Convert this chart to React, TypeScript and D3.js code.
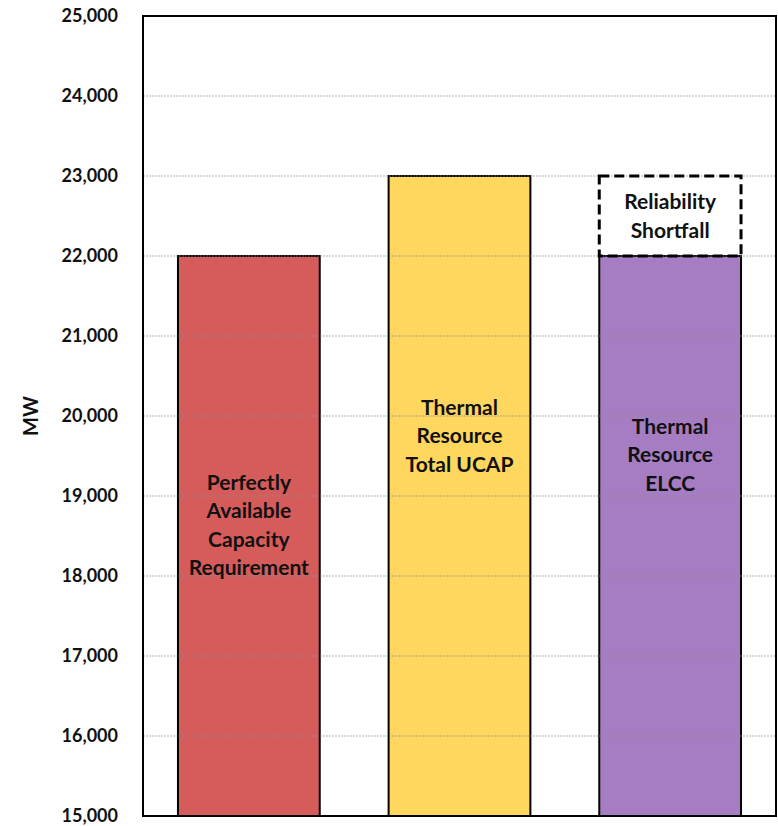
import React from "react";
import * as d3 from "d3";

const categories = ["Requirement", "UCAP", "ELCC"];
const barValues = [22000, 23000, 22000];
const barColors = ["#d65c5c", "#ffd65e", "#a67dc3"];
const barLabels = [
  ["Perfectly", "Available", "Capacity", "Requirement"],
  ["Thermal", "Resource", "Total UCAP"],
  ["Thermal", "Resource", "ELCC"],
];
const labelCenters = [525, 436, 455];
const shortfallTop = 23000;
const shortfallLabel = ["Reliability", "Shortfall"];
const yTicks = [15000, 16000, 17000, 18000, 19000, 20000, 21000, 22000, 23000, 24000, 25000];

const W = 778;
const H = 826;
const left = 143;
const right = 776;
const top = 16;
const bottom = 816;
const font = "Lato, 'Open Sans', sans-serif";

export default function App() {
  const y = d3.scaleLinear().domain([15000, 25000]).range([bottom, top]);
  const x = d3
    .scaleBand()
    .domain(categories)
    .range([left, right])
    .paddingInner(0.327)
    .paddingOuter(0.166);
  const fmt = d3.format(",");
  const lh = 28.5;
  return (
    <svg width={W} height={H} style={{ position: "absolute", left: 0, top: 0 }}>
      <rect x={0} y={0} width={W} height={H} fill="#fff" />
      {categories.map((c, i) => (
        <rect
          key={c}
          x={x(c)!}
          y={y(barValues[i])}
          width={x.bandwidth()}
          height={bottom - y(barValues[i])}
          fill={barColors[i]}
          stroke="#000"
          strokeWidth={2}
        />
      ))}
      {yTicks.slice(1, -1).map((t) => (
        <line
          key={t}
          x1={left}
          x2={right}
          y1={y(t)}
          y2={y(t)}
          stroke="#8c8c8c"
          strokeOpacity={0.45}
          strokeWidth={1.3}
          strokeDasharray="2,1"
        />
      ))}
      <rect
        x={x("ELCC")!}
        y={y(shortfallTop)}
        width={x.bandwidth()}
        height={y(barValues[2]) - y(shortfallTop)}
        fill="none"
        stroke="#000"
        strokeWidth={3}
        strokeDasharray="10,5"
      />
      <rect x={left} y={top} width={right - left} height={bottom - top} fill="none" stroke="#000" strokeWidth={2} />
      {yTicks.map((t) => (
        <text
          key={t}
          x={118}
          y={y(t)}
          dy="0.35em"
          textAnchor="end"
          fontFamily={font}
          fontWeight="bold"
          fontSize={18}
          fill="#111"
        >
          {fmt(t)}
        </text>
      ))}
      <text
        transform={`translate(31,416) rotate(-90)`}
        textAnchor="middle"
        dy="0.35em"
        fontFamily={font}
        fontWeight="bold"
        fontSize={20}
        fill="#111"
      >
        MW
      </text>
      {categories.map((c, i) => {
        const lines = barLabels[i];
        const cx = x(c)! + x.bandwidth() / 2;
        const start = labelCenters[i] - ((lines.length - 1) * lh) / 2;
        return (
          <text key={c} textAnchor="middle" fontFamily={font} fontWeight="bold" fontSize={21} fill="#111">
            {lines.map((l, j) => (
              <tspan key={j} x={cx} y={start + j * lh} dy="0.35em">
                {l}
              </tspan>
            ))}
          </text>
        );
      })}
      <text textAnchor="middle" fontFamily={font} fontWeight="bold" fontSize={21} fill="#111">
        {shortfallLabel.map((l, j) => (
          <tspan key={j} x={x("ELCC")! + x.bandwidth() / 2} y={(y(shortfallTop) + y(barValues[2])) / 2 - lh / 2 + j * lh} dy="0.35em">
            {l}
          </tspan>
        ))}
      </text>
    </svg>
  );
}
